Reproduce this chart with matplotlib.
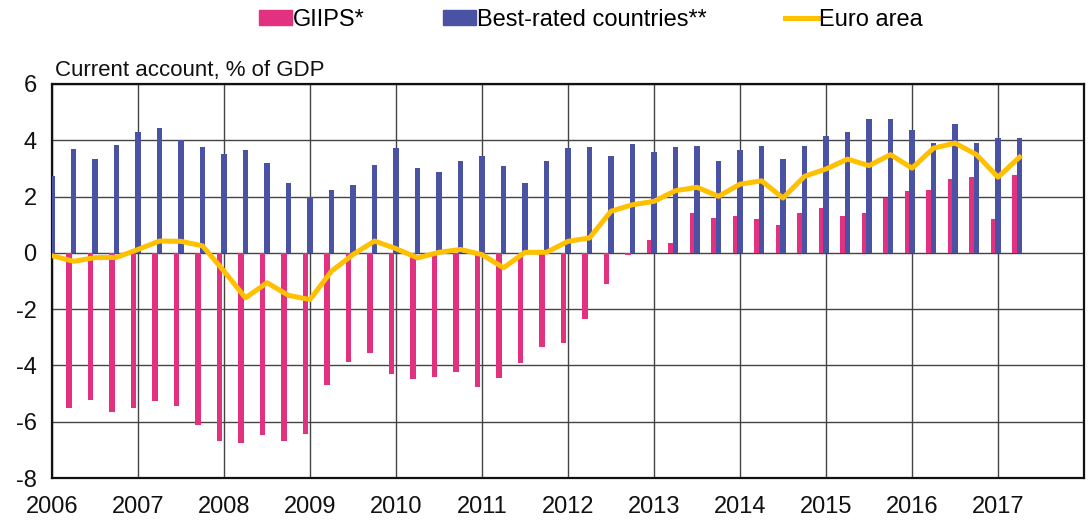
import numpy as np
from matplotlib import pyplot as plt
from matplotlib.patches import Patch
from matplotlib.lines import Line2D

plt.rcParams['font.family'] = ['Liberation Sans', 'DejaVu Sans']
plt.rcParams['axes.unicode_minus'] = False

# quarterly observations, 2005Q4 .. 2017Q1 (plotted at quarter end)
quarters = 2006 + 0.25 * np.arange(46)

giips = [np.nan, -5.50, -5.23, -5.64, -5.50, -5.28, -5.44, -6.10, -6.70, -6.75,
         -6.48, -6.68, -6.44, -4.69, -3.87, -3.55, -4.32, -4.47, -4.41, -4.23,
         -4.75, -4.43, -3.90, -3.33, -3.22, -2.34, -1.10, -0.07, 0.44, 0.35,
         1.42, 1.23, 1.30, 1.22, 0.98, 1.43, 1.61, 1.32, 1.43, 1.96,
         2.21, 2.24, 2.62, 2.69, 1.22, 2.75]

best_rated = [2.74, 3.70, 3.34, 3.84, 4.28, 4.43, 4.00, 3.77, 3.52, 3.66,
              3.21, 2.47, 1.99, 2.23, 2.41, 3.13, 3.72, 3.00, 2.89, 3.25,
              3.45, 3.10, 2.47, 3.25, 3.72, 3.76, 3.45, 3.88, 3.60, 3.76,
              3.80, 3.25, 3.64, 3.80, 3.34, 3.80, 4.14, 4.31, 4.76, 4.76,
              4.37, 3.92, 4.58, 3.90, 4.09, 4.09]

euro_area = [-0.10, -0.30, -0.17, -0.16, 0.12, 0.42, 0.41, 0.25, -0.65, -1.60,
             -1.06, -1.51, -1.66, -0.65, -0.06, 0.42, 0.15, -0.18, 0.02, 0.12,
             -0.06, -0.53, 0.02, 0.02, 0.41, 0.53, 1.48, 1.71, 1.83, 2.21,
             2.33, 2.01, 2.44, 2.56, 1.95, 2.72, 2.98, 3.33, 3.10, 3.49,
             3.01, 3.72, 3.90, 3.49, 2.69, 3.40]

year_ticks = np.arange(2006, 2018)

pink = '#E2327F'
blue = '#4A53A3'
gold = '#FFC000'

fig = plt.figure(figsize=(10.92, 5.23), dpi=100)
ax = fig.add_axes([0.0476, 0.086, 0.9451, 0.7534])

ax.bar(quarters - 0.052, giips, width=0.065, color=pink, zorder=3)
ax.bar(quarters, best_rated, width=0.062, color=blue, zorder=3)
ax.plot(quarters, euro_area, color=gold, lw=3.6, zorder=4, solid_joinstyle='round')

ax.set_xlim(2006, 2018)
ax.set_ylim(-8, 6)
ax.set_yticks(np.arange(-8, 7, 2))
ax.set_xticks(year_ticks)
ax.set_xticklabels([str(y) for y in year_ticks])
ax.tick_params(length=0, labelsize=17, colors='#111111')
ax.tick_params(axis='x', pad=13)
ax.tick_params(axis='y', pad=11)
ax.grid(True, color='#444444', lw=1.0, zorder=0)
for s in ax.spines.values():
    s.set_linewidth(1.6)
    s.set_color('#111111')

fig.text(0.0505, 0.845, 'Current account, % of GDP', fontsize=16,
         color='#111111', va='bottom', ha='left')

handles = [Patch(color=pink), Patch(color=blue), Line2D([], [], color=gold, lw=3.6)]
labels = ['GIIPS*', 'Best-rated countries**', 'Euro area']
fig.legend(handles, labels, loc='center', bbox_to_anchor=(0.541, 0.962), ncol=3,
           frameon=False, fontsize=17, handlelength=1.4, handleheight=0.65,
           handletextpad=0.05, columnspacing=3.3, borderaxespad=0)

fig.savefig('out.png', dpi=100)
